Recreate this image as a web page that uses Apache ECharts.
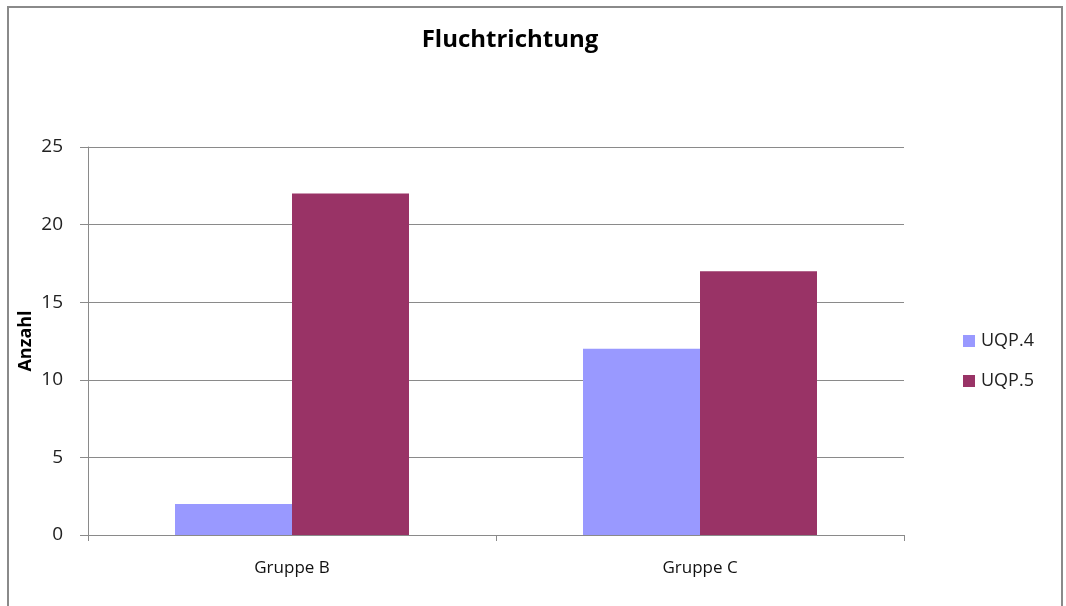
<!DOCTYPE html>
<html>
<head>
<meta charset="utf-8">
<script src="https://cdn.jsdelivr.net/npm/echarts@6/dist/echarts.min.js"></script>
<style>
  html, body { margin: 0; padding: 0; background: #fff; }
  #chart { width: 1066px; height: 606px; }
</style>
</head>
<body>
<div id="chart"></div>
<script>
// Fluchtrichtung: Anzahl je Gruppe
const categories = ['Gruppe B', 'Gruppe C'];
const uqp4 = [2, 12];
const uqp5 = [22, 17];
const yTicks = { min: 0, max: 25, step: 5 };

const chart = echarts.init(document.getElementById('chart'));
const fontFamily = '"Open Sans", "Liberation Sans", sans-serif';

chart.setOption({
  animation: false,
  backgroundColor: '#ffffff',
  textStyle: { fontFamily: fontFamily },
  graphic: [{
    type: 'rect',
    shape: { x: 8, y: 7, width: 1054, height: 620 },
    style: { fill: 'none', stroke: '#8a8a8a', lineWidth: 2 },
    silent: true
  }],
  title: {
    text: 'Fluchtrichtung',
    left: 510,
    textAlign: 'center',
    top: 28,
    padding: 0,
    textStyle: { fontSize: 24, fontWeight: 'bold', color: '#000', fontFamily: fontFamily }
  },
  legend: {
    orient: 'vertical',
    left: 958,
    top: 327,
    itemWidth: 12,
    itemHeight: 12,
    itemGap: 22,
    icon: 'rect',
    textStyle: { fontSize: 18, color: '#222', fontFamily: fontFamily, padding: [0, 0, 0, 1] },
    data: ['UQP.4', 'UQP.5']
  },
  grid: { left: 88, right: 162, top: 147, bottom: 71 },
  xAxis: {
    type: 'category',
    data: categories,
    axisLine: { show: true, lineStyle: { color: '#8a8a8a', width: 1 } },
    axisTick: { show: true, length: 6, lineStyle: { color: '#8a8a8a' } },
    axisLabel: { fontSize: 17, color: '#111', margin: 25, fontFamily: fontFamily }
  },
  yAxis: {
    type: 'value',
    min: yTicks.min,
    max: yTicks.max,
    interval: yTicks.step,
    name: 'Anzahl',
    nameLocation: 'middle',
    nameGap: 53,
    nameMoveOverlap: false,
    nameRotate: 90,
    nameTextStyle: { fontSize: 18, fontWeight: 'bold', color: '#000', fontFamily: fontFamily },
    axisLine: { show: true, lineStyle: { color: '#8a8a8a', width: 1 } },
    axisTick: { show: true, length: 8, lineStyle: { color: '#8a8a8a' } },
    axisLabel: { fontSize: 19, color: '#222', margin: 25, fontFamily: fontFamily },
    splitLine: { show: true, lineStyle: { color: '#8a8a8a', width: 1 } }
  },
  series: [
    {
      name: 'UQP.4',
      type: 'bar',
      data: uqp4,
      barWidth: 117,
      barGap: '0%',
      itemStyle: { color: '#9999ff' }
    },
    {
      name: 'UQP.5',
      type: 'bar',
      data: uqp5,
      barWidth: 117,
      barGap: '0%',
      itemStyle: { color: '#993366' }
    }
  ]
});
</script>
</body>
</html>
